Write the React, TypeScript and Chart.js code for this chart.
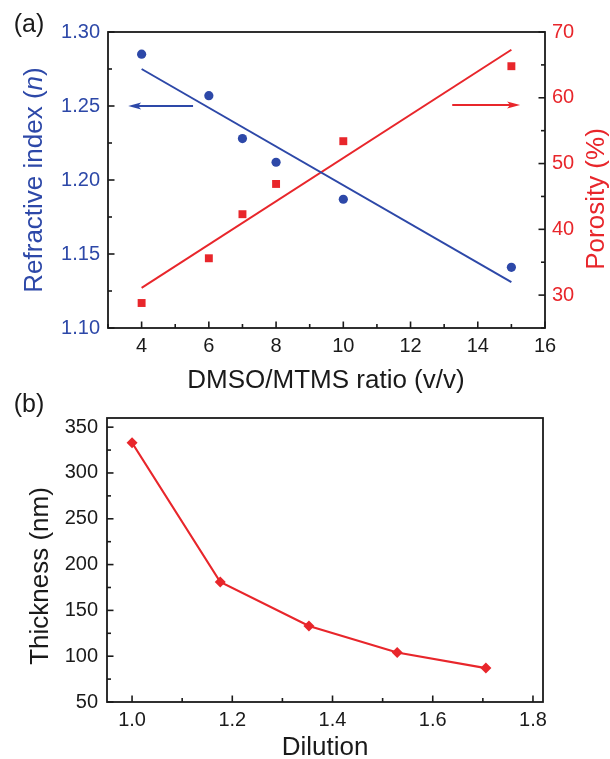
import React, { useEffect, useRef } from "react";
import { Chart, registerables } from "chart.js";

Chart.register(...registerables);

// ---------- data ----------
const ratio = [4, 6, 7, 8, 10, 15];
const refractiveIndex = [1.285, 1.257, 1.228, 1.212, 1.187, 1.141];
const porosity = [28.8, 35.6, 42.3, 46.9, 53.4, 64.8];
const fitRatio = [4, 15];
const refractiveFit = [1.275, 1.131];
const porosityFit = [31.1, 67.3];
const dilution = [1.0, 1.176, 1.353, 1.529, 1.706];
const thickness = [333, 181, 133, 104, 87];

// arrows in data units: [fromX, toX, y]
const blueArrow = [5.53, 3.6, 1.25];
const redArrow = [13.24, 15.26, 58.9];

const BLUE = "#2d48a8";
const RED = "#e8262b";
const INK = "#1a1a1a";
const FONT = '"Liberation Sans", Arial, Helvetica, sans-serif';
const TITLE = 26;

type Seg = { t: string; italic?: boolean };

function drawRich(
  ctx: CanvasRenderingContext2D,
  segs: Seg[],
  x: number,
  y: number,
  size: number,
  color: string,
  rotate: boolean
) {
  ctx.save();
  ctx.translate(x, y);
  if (rotate) ctx.rotate(-Math.PI / 2);
  ctx.fillStyle = color;
  ctx.textBaseline = "alphabetic";
  ctx.textAlign = "left";
  let total = 0;
  const widths = segs.map((s) => {
    ctx.font = `${s.italic ? "italic " : ""}${size}px ${FONT}`;
    const w = ctx.measureText(s.t).width;
    total += w;
    return w;
  });
  let cx = -total / 2;
  segs.forEach((s, i) => {
    ctx.font = `${s.italic ? "italic " : ""}${size}px ${FONT}`;
    ctx.fillText(s.t, cx, 0);
    cx += widths[i];
  });
  ctx.restore();
}

const frameTicks = {
  id: "frameTicks",
  afterDatasetsDraw(chart: any, _a: any, opts: any) {
    const ctx: CanvasRenderingContext2D = chart.ctx;
    const ca = chart.chartArea;
    ctx.save();
    ctx.strokeStyle = INK;
    ctx.lineWidth = 1.6;
    const steps = opts.steps || {};
    Object.keys(steps).forEach((id) => {
      const sc = chart.scales[id];
      if (!sc) return;
      const [minor, major] = steps[id];
      sc.ticks.forEach((tk: any) => {
        const v = tk.value;
        const qm = v / minor;
        if (Math.abs(qm - Math.round(qm)) > 1e-6) return;
        const qM = v / major;
        const isMajor = Math.abs(qM - Math.round(qM)) < 1e-6;
        const len = isMajor ? 6.5 : 4;
        ctx.beginPath();
        if (sc.isHorizontal()) {
          const px = sc.getPixelForValue(v);
          ctx.moveTo(px, ca.bottom);
          ctx.lineTo(px, ca.bottom - len);
        } else if (sc.position === "left") {
          const py = sc.getPixelForValue(v);
          ctx.moveTo(ca.left, py);
          ctx.lineTo(ca.left + len, py);
        } else {
          const py = sc.getPixelForValue(v);
          ctx.moveTo(ca.right, py);
          ctx.lineTo(ca.right - len, py);
        }
        ctx.stroke();
      });
    });
    ctx.lineWidth = 1.8;
    ctx.strokeRect(ca.left, ca.top, ca.right - ca.left, ca.bottom - ca.top);
    ctx.restore();
  },
};

const arrows = {
  id: "arrows",
  afterDatasetsDraw(chart: any, _a: any, opts: any) {
    const list = opts.list || [];
    const ctx: CanvasRenderingContext2D = chart.ctx;
    list.forEach((a: any) => {
      const xs = chart.scales.x;
      const ys = chart.scales[a.axis];
      const x0 = xs.getPixelForValue(a.v[0]);
      const x1 = xs.getPixelForValue(a.v[1]);
      const y = ys.getPixelForValue(a.v[2]);
      const dir = Math.sign(x1 - x0);
      ctx.save();
      ctx.strokeStyle = a.color;
      ctx.fillStyle = a.color;
      ctx.lineWidth = 2;
      ctx.beginPath();
      ctx.moveTo(x0, y);
      ctx.lineTo(x1 - dir * 8, y);
      ctx.stroke();
      ctx.beginPath();
      ctx.moveTo(x1, y);
      ctx.lineTo(x1 - dir * 13, y - 3.5);
      ctx.lineTo(x1 - dir * 10, y);
      ctx.lineTo(x1 - dir * 13, y + 3.5);
      ctx.closePath();
      ctx.fill();
      ctx.restore();
    });
  },
};

const texts = {
  id: "texts",
  afterDraw(chart: any, _a: any, opts: any) {
    const ctx: CanvasRenderingContext2D = chart.ctx;
    (opts.list || []).forEach((t: any) => {
      drawRich(ctx, t.segs, t.x, t.y, t.size, t.color, !!t.rotate);
    });
  },
};

const tickFont = { family: FONT, size: 20 };
const noGrid = { display: false, drawTicks: false };

function labelEvery(step: number, digits: number) {
  return (v: any) => {
    const q = v / step;
    return Math.abs(q - Math.round(q)) < 1e-6 ? Number(v).toFixed(digits) : "";
  };
}

export default function App() {
  const topRef = useRef<HTMLCanvasElement>(null);
  const botRef = useRef<HTMLCanvasElement>(null);

  useEffect(() => {
    const top = new Chart(topRef.current as HTMLCanvasElement, {
      type: "scatter",
      data: {
        datasets: [
          {
            data: fitRatio.map((x, i) => ({ x, y: refractiveFit[i] })),
            yAxisID: "y",
            showLine: true,
            borderColor: BLUE,
            borderWidth: 2,
            pointRadius: 0,
          },
          {
            data: fitRatio.map((x, i) => ({ x, y: porosityFit[i] })),
            yAxisID: "y1",
            showLine: true,
            borderColor: RED,
            borderWidth: 2,
            pointRadius: 0,
          },
          {
            data: ratio.map((x, i) => ({ x, y: refractiveIndex[i] })),
            yAxisID: "y",
            pointStyle: "circle",
            pointRadius: 4.6,
            backgroundColor: BLUE,
            borderColor: BLUE,
            borderWidth: 0,
          },
          {
            data: ratio.map((x, i) => ({ x, y: porosity[i] })),
            yAxisID: "y1",
            pointStyle: "rect",
            pointRadius: 5.6,
            backgroundColor: RED,
            borderColor: RED,
            borderWidth: 0,
          },
        ],
      },
      options: {
        animation: false,
        responsive: false,
        devicePixelRatio: 1,
        events: [],
        layout: { padding: { top: 32, left: 0, right: 0, bottom: 0 } },
        scales: {
          x: {
            type: "linear",
            min: 3,
            max: 16,
            grid: noGrid,
            border: { display: false },
            afterFit: (s: any) => {
              s.height = 72;
            },
            ticks: {
              stepSize: 1,
              includeBounds: false,
              autoSkip: false,
              maxRotation: 0,
              padding: 6,
              color: INK,
              font: tickFont,
              callback: labelEvery(2, 0),
            },
          },
          y: {
            type: "linear",
            position: "left",
            min: 1.1,
            max: 1.3,
            grid: noGrid,
            border: { display: false },
            afterFit: (s: any) => {
              s.width = 108;
            },
            ticks: {
              stepSize: 0.025,
              includeBounds: false,
              autoSkip: false,
              padding: 8,
              color: BLUE,
              font: tickFont,
              callback: labelEvery(0.05, 2),
            },
          },
          y1: {
            type: "linear",
            position: "right",
            min: 25,
            max: 70,
            grid: noGrid,
            border: { display: false },
            afterFit: (s: any) => {
              s.width = 65;
            },
            ticks: {
              stepSize: 5,
              includeBounds: false,
              autoSkip: false,
              padding: 7,
              color: RED,
              font: tickFont,
              callback: labelEvery(10, 0),
            },
          },
        },
        plugins: {
          legend: { display: false },
          tooltip: { enabled: false },
          frameTicks: { steps: { x: [1, 2], y: [0.025, 0.05], y1: [5, 10] } },
          arrows: {
            list: [
              { axis: "y", v: blueArrow, color: BLUE },
              { axis: "y1", v: redArrow, color: RED },
            ],
          },
          texts: {
            list: [
              { segs: [{ t: "(a)" }], x: 29, y: 32, size: 25, color: INK },
              {
                segs: [{ t: "Refractive index (" }, { t: "n", italic: true }, { t: ")" }],
                x: 42,
                y: 180,
                size: TITLE,
                color: BLUE,
                rotate: true,
              },
              { segs: [{ t: "Porosity (%)" }], x: 604, y: 199, size: TITLE, color: RED, rotate: true },
              { segs: [{ t: "DMSO/MTMS ratio (v/v)" }], x: 326, y: 388, size: TITLE, color: INK },
            ],
          },
        } as any,
      },
      plugins: [frameTicks, arrows, texts],
    } as any);

    const bot = new Chart(botRef.current as HTMLCanvasElement, {
      type: "scatter",
      data: {
        datasets: [
          {
            data: dilution.map((x, i) => ({ x, y: thickness[i] })),
            showLine: true,
            borderColor: RED,
            borderWidth: 2.2,
            pointStyle: "rectRot",
            pointRadius: 5.5,
            backgroundColor: RED,
            pointBorderWidth: 0,
          },
        ],
      },
      options: {
        animation: false,
        responsive: false,
        devicePixelRatio: 1,
        events: [],
        layout: { padding: { top: 38, left: 0, right: 67, bottom: 0 } },
        scales: {
          x: {
            type: "linear",
            min: 0.95,
            max: 1.82,
            grid: noGrid,
            border: { display: false },
            afterFit: (s: any) => {
              s.height = 57;
            },
            ticks: {
              stepSize: 0.1,
              includeBounds: false,
              autoSkip: false,
              maxRotation: 0,
              padding: 6,
              color: INK,
              font: tickFont,
              callback: labelEvery(0.2, 1),
            },
          },
          y: {
            type: "linear",
            position: "left",
            min: 50,
            max: 360,
            grid: noGrid,
            border: { display: false },
            afterFit: (s: any) => {
              s.width = 107;
            },
            ticks: {
              stepSize: 25,
              includeBounds: false,
              autoSkip: false,
              padding: 9,
              color: INK,
              font: tickFont,
              callback: labelEvery(50, 0),
            },
          },
        },
        plugins: {
          legend: { display: false },
          tooltip: { enabled: false },
          frameTicks: { steps: { x: [0.1, 0.2], y: [25, 50] } },
          texts: {
            list: [
              { segs: [{ t: "(b)" }], x: 29, y: 32, size: 25, color: INK },
              { segs: [{ t: "Thickness (nm)" }], x: 48, y: 196, size: TITLE, color: INK, rotate: true },
              { segs: [{ t: "Dilution" }], x: 325, y: 375, size: TITLE, color: INK },
            ],
          },
        } as any,
      },
      plugins: [frameTicks, texts],
    } as any);

    return () => {
      top.destroy();
      bot.destroy();
    };
  }, []);

  return (
    <div style={{ position: "absolute", left: 0, top: 0, width: 610, height: 759, background: "#fff" }}>
      <canvas ref={topRef} width={610} height={400} style={{ position: "absolute", left: 0, top: 0 }} />
      <canvas ref={botRef} width={610} height={379} style={{ position: "absolute", left: 0, top: 380 }} />
    </div>
  );
}
